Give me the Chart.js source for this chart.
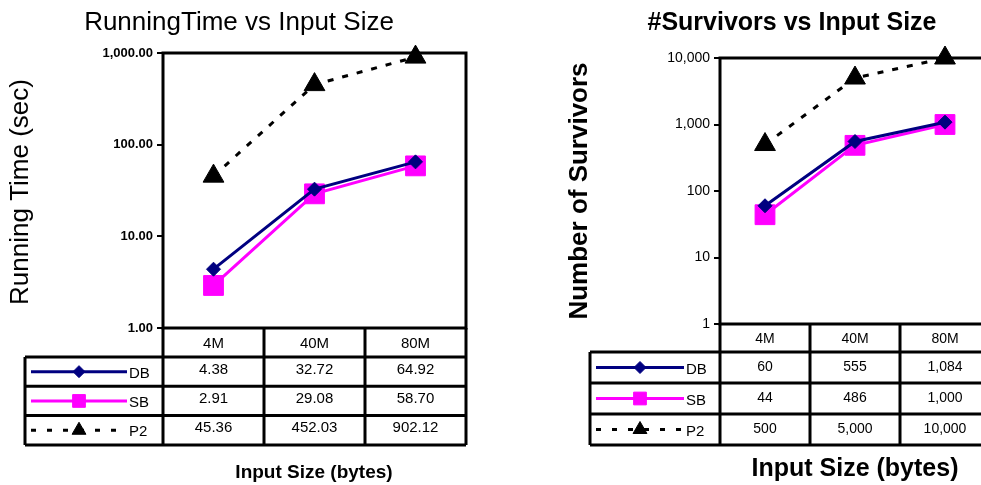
<!DOCTYPE html>
<html><head><meta charset="utf-8">
<script src="https://cdn.jsdelivr.net/npm/chart.js@4.4.1/dist/chart.umd.min.js"></script>
<style>
html,body{margin:0;padding:0;background:#fff;overflow:hidden;width:981px;height:485px}
.wrap{position:absolute;top:0;height:485px}
#w1{left:0;width:490px} #w2{left:490px;width:500px}
</style></head><body>
<div class="wrap" id="w1"><canvas id="c1"></canvas></div>
<div class="wrap" id="w2"><canvas id="c2"></canvas></div>
<script>
const sizes = ['4M', '40M', '80M'];
const seriesNames = ['DB', 'SB', 'P2'];
const timeDB = [4.38, 32.72, 64.92];
const timeSB = [2.91, 29.08, 58.70];
const timeP2 = [45.36, 452.03, 902.12];
const survDB = [60, 555, 1084];
const survSB = [44, 486, 1000];
const survP2 = [500, 5000, 10000];
const timeTicks = [1, 10, 100, 1000];
const survTicks = [1, 10, 100, 1000, 10000];

const FONT = '"Liberation Sans", Arial, sans-serif';
const colors = ['#000080', '#ff00ff', '#000000'];
const styles = ['rectRot', 'rect', 'triangle'];
const bigRadius = [7, 14, 12];
const legRadius = [6, 9, 8];
const dashes = [[], [], [6, 9]];

const fmt2 = v => v.toLocaleString('en-US', { minimumFractionDigits: 2, maximumFractionDigits: 2 });
const fmt0 = v => v.toLocaleString('en-US');

// draws the plot box, data table with legend keys, and all titles
const sheetPlugin = {
  id: 'sheet',
  afterDraw(chart, args, o) {
    const ctx = chart.ctx, a = chart.chartArea;
    const labels = chart.data.labels, sets = chart.data.datasets;
    const n = labels.length, cw = (a.right - a.left) / n;
    const hdrBottom = a.bottom + o.headH;
    const tblBottom = hdrBottom + sets.length * o.rowH;
    ctx.save();
    ctx.strokeStyle = '#000';
    ctx.lineWidth = 3;
    ctx.strokeRect(a.left, a.top, a.right - a.left, a.bottom - a.top);
    ctx.beginPath();
    for (let i = 0; i <= n; i++) {
      const x = a.left + i * cw;
      ctx.moveTo(x, a.bottom); ctx.lineTo(x, tblBottom);
    }
    for (let r = 0; r <= sets.length; r++) {
      const y = hdrBottom + r * o.rowH;
      ctx.moveTo(o.legLeft, y); ctx.lineTo(a.right, y);
    }
    ctx.moveTo(o.legLeft, hdrBottom); ctx.lineTo(o.legLeft, tblBottom);
    ctx.stroke();

    ctx.fillStyle = '#000';
    ctx.textAlign = 'center';
    ctx.textBaseline = 'middle';
    ctx.font = o.cellFont;
    labels.forEach((l, i) => ctx.fillText(l, a.left + (i + 0.5) * cw, a.bottom + o.headH / 2 + 1));
    sets.forEach((ds, r) => {
      const yc = hdrBottom + (r + 0.5) * o.rowH;
      ctx.font = o.cellFont;
      ctx.textAlign = 'center';
      ds.data.forEach((v, i) => ctx.fillText(o.fmt(v), a.left + (i + 0.5) * cw, yc + o.valDy));
      // legend key
      const x0 = o.legLeft + 6, x1 = a.left - 36;
      ctx.save();
      ctx.strokeStyle = ds.borderColor;
      ctx.lineWidth = 3;
      ctx.setLineDash(ds.borderDash.length ? [5, 11] : []);
      ctx.beginPath(); ctx.moveTo(x0, yc); ctx.lineTo(x1, yc); ctx.stroke();
      ctx.restore();
      ctx.fillStyle = ds.backgroundColor;
      ctx.strokeStyle = ds.borderColor;
      ctx.lineWidth = 1;
      Chart.helpers.drawPoint(ctx, { pointStyle: ds.pointStyle, radius: legRadius[r], borderWidth: 1 }, (x0 + x1) / 2, yc);
      ctx.fillStyle = '#000';
      ctx.textAlign = 'left';
      ctx.font = '15px ' + FONT;
      ctx.fillText(ds.label, x1 + 2, yc + 2);
    });

    // titles
    ctx.textAlign = 'center';
    ctx.font = o.titleFont;
    ctx.fillText(o.title, o.titleX, o.titleY);
    ctx.font = o.xTitleFont;
    ctx.fillText(o.xTitle, o.xTitleX, o.xTitleY);
    ctx.save();
    ctx.translate(o.yTitleX, o.yTitleY);
    ctx.rotate(-Math.PI / 2);
    ctx.font = o.yTitleFont;
    ctx.fillText(o.yTitle, 0, 0);
    ctx.restore();
    ctx.restore();
  }
};

function makeChart(id, values, ticks, tickFmt, tickFont, layout, sheet) {
  const datasets = values.map((vals, i) => ({
    label: seriesNames[i],
    data: vals,
    borderColor: colors[i],
    backgroundColor: colors[i],
    borderWidth: 3,
    borderDash: dashes[i],
    pointStyle: styles[i],
    pointRadius: bigRadius[i],
    pointBorderWidth: 1,
    tension: 0,
    clip: false
  }));
  return new Chart(document.getElementById(id), {
    type: 'line',
    data: { labels: sizes, datasets },
    options: {
      responsive: true,
      maintainAspectRatio: false,
      animation: false,
      layout: { autoPadding: false, padding: layout.padding },
      plugins: { legend: { display: false }, tooltip: { enabled: false }, sheet },
      scales: {
        x: { type: 'category', offset: true, display: false },
        y: {
          type: 'logarithmic', min: ticks[0], max: ticks[ticks.length - 1],
          afterBuildTicks: s => { s.ticks = ticks.map(v => ({ value: v })); },
          afterFit: s => { s.width = layout.axisW; },
          border: { display: false },
          grid: { drawOnChartArea: false, color: '#000', lineWidth: 2, tickLength: 6 },
          ticks: { color: '#000', font: tickFont, padding: 4, callback: v => tickFmt(v) }
        }
      }
    },
    plugins: [sheetPlugin]
  });
}

makeChart('c1', [timeDB, timeSB, timeP2], timeTicks, fmt2,
  { family: FONT, size: 13, weight: 'bold' },
  { axisW: 163, padding: { top: 53, right: 24, bottom: 157, left: 0 } },
  { headH: 29, rowH: 29.3, legLeft: 25, fmt: fmt2, cellFont: '15px ' + FONT, valDy: -2,
    title: 'RunningTime vs Input Size', titleFont: '26px ' + FONT, titleX: 239, titleY: 23,
    xTitle: 'Input Size (bytes)', xTitleFont: 'bold 19px ' + FONT, xTitleX: 314, xTitleY: 473,
    yTitle: 'Running Time (sec)', yTitleFont: '26px ' + FONT, yTitleX: 21, yTitleY: 192 });

makeChart('c2', [survDB, survSB, survP2], survTicks, fmt0,
  { family: FONT, size: 14 },
  { axisW: 230, padding: { top: 58, right: 0, bottom: 161, left: 0 } },
  { headH: 28, rowH: 31, legLeft: 100, fmt: fmt0, cellFont: '14px ' + FONT, valDy: 0,
    title: '#Survivors vs Input Size', titleFont: 'bold 25px ' + FONT, titleX: 302, titleY: 23,
    xTitle: 'Input Size (bytes)', xTitleFont: 'bold 25px ' + FONT, xTitleX: 365, xTitleY: 469,
    yTitle: 'Number of Survivors', yTitleFont: 'bold 26px ' + FONT, yTitleX: 90, yTitleY: 191 });
</script>
</body></html>
